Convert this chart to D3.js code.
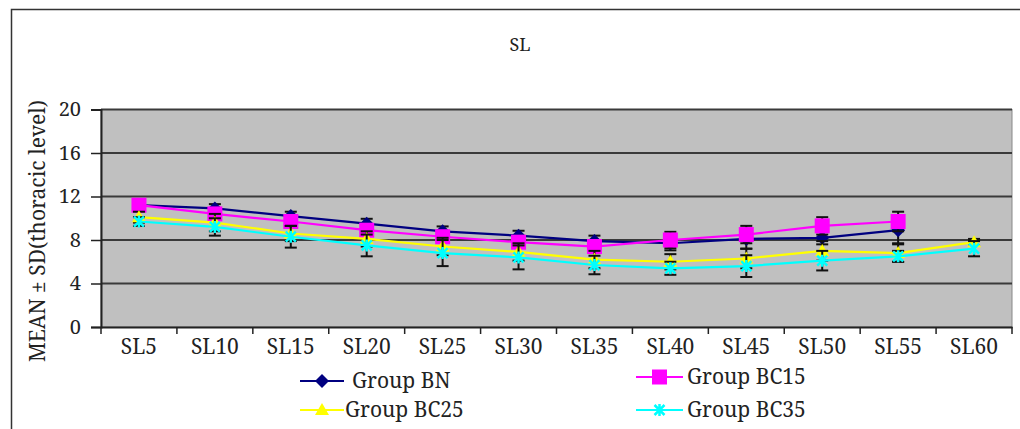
<!DOCTYPE html>
<html><head><meta charset="utf-8">
<script src="https://cdn.jsdelivr.net/npm/d3@7"></script>
<style>body{margin:0;background:#fff;}svg{display:block;}</style>
</head><body>
<script>
const categories = ["SL5","SL10","SL15","SL20","SL25","SL30","SL35","SL40","SL45","SL50","SL55","SL60"];
const seriesNames = ["Group BN","Group BC15","Group BC25","Group BC35"];
const bnValues   = [11.2, 10.9, 10.2, 9.5, 8.8, 8.4, 7.9, 7.7, 8.1, 8.2, 8.9];
const bc15Values = [11.2, 10.4, 9.7, 8.9, 8.3, 7.8, 7.4, 8.0, 8.5, 9.3, 9.7];
const bc25Values = [10.1, 9.6, 8.6, 8.1, 7.4, 6.9, 6.2, 6.0, 6.3, 7.0, 6.8, 7.8];
const bc35Values = [9.7, 9.2, 8.3, 7.5, 6.8, 6.4, 5.7, 5.4, 5.6, 6.1, 6.5, 7.2];
const bnSD   = [0.4, 0.4, 0.4, 0.45, 0.45, 0.45, 0.5, 0.65, 0.9, 0.6, 1.2];
const bc15SD = [0.5, 0.5, 0.5, 0.5, 0.5, 0.5, 0.5, 0.75, 0.8, 0.8, 0.9];
const bc25SD = [0.5, 0.8, 0.7, 0.7, 0.8, 0.8, 0.8, 0.7, 0.9, 0.9, 0.8, 0.3];
const bc35SD = [0.4, 0.8, 1.0, 1.0, 1.2, 1.1, 0.85, 0.6, 1.0, 0.9, 0.5, 0.7];
const yTicks = [0, 4, 8, 12, 16, 20];
const titleText = "SL";
const yLabel = "MEAN ± SD(thoracic level)";

const W = 1020, H = 429;
const FONT = '"Noto Serif", "Liberation Serif", serif';
const svg = d3.select("body").append("svg").attr("width", W).attr("height", H);

// outer frame
svg.append("rect").attr("x", 11.5).attr("y", 9.5).attr("width", W + 20).attr("height", H + 20)
  .attr("fill", "#fff").attr("stroke", "#333").attr("stroke-width", 1.5);

const x = d3.scaleBand().domain(categories).range([101, 1012]);
const y = d3.scaleLinear().domain([0, 20]).range([327, 109.5]);
const cx = c => x(c) + x.bandwidth() / 2;

// plot background
svg.append("rect").attr("x", 101).attr("y", y(20)).attr("width", 1012 - 101).attr("height", y(0) - y(20))
  .attr("fill", "#c0c0c0").attr("stroke", "#888").attr("stroke-width", 1);

// gridlines
svg.append("g").selectAll("line").data(yTicks.filter(t => t > 0)).join("line")
  .attr("x1", 101).attr("x2", 1012).attr("y1", d => y(d)).attr("y2", d => y(d))
  .attr("stroke", "#3a3a3a").attr("stroke-width", 2);

// y axis
const yAxis = svg.append("g").attr("transform", "translate(101,0)")
  .call(d3.axisLeft(y).tickValues(yTicks).tickSize(10).tickPadding(10).tickFormat(d3.format("d")));
yAxis.select(".domain").attr("stroke", "#222").attr("stroke-width", 2);
yAxis.selectAll(".tick line").attr("stroke", "#222").attr("stroke-width", 1.5);
yAxis.selectAll(".tick text").style("font-size", "20px").style("font-family", FONT).attr("fill", "#222");

// x axis
const xAxis = svg.append("g").attr("transform", "translate(0,327)")
  .call(d3.axisBottom(x).tickSize(0).tickPadding(12));
xAxis.select(".domain").attr("stroke", "#222").attr("stroke-width", 2);
xAxis.selectAll(".tick text").style("font-size", "21px").style("font-family", FONT).attr("fill", "#222").attr("dy", "0.72em");
// tick marks at band boundaries
svg.append("g").selectAll("line").data(categories.concat(["__end"])).join("line")
  .attr("x1", (d, i) => i < categories.length ? x(d) : 1012)
  .attr("x2", (d, i) => i < categories.length ? x(d) : 1012)
  .attr("y1", 327).attr("y2", 334).attr("stroke", "#222").attr("stroke-width", 1.5);

// title & y label
svg.append("text").attr("x", 520).attr("y", 51).attr("text-anchor", "middle")
  .style("font-family", FONT).style("font-size", "18px").attr("fill", "#222").text(titleText);
svg.append("text").attr("transform", "translate(45,231) rotate(-90)").attr("text-anchor", "middle")
  .style("font-family", FONT).style("font-size", "21px").attr("fill", "#222").text(yLabel);

const series = [
  {name: seriesNames[0], vals: bnValues, sd: bnSD, color: "#000080", marker: "diamond"},
  {name: seriesNames[1], vals: bc15Values, sd: bc15SD, color: "#ff00ff", marker: "square"},
  {name: seriesNames[2], vals: bc25Values, sd: bc25SD, color: "#ffff00", marker: "triangle"},
  {name: seriesNames[3], vals: bc35Values, sd: bc35SD, color: "#00ffff", marker: "x"}
];

function drawMarker(g, type, color, px, py) {
  if (type === "diamond") {
    g.append("path").attr("d", `M${px},${py-7}L${px+7},${py}L${px},${py+7}L${px-7},${py}Z`).attr("fill", color);
  } else if (type === "square") {
    g.append("rect").attr("x", px - 7.5).attr("y", py - 7.5).attr("width", 15).attr("height", 15).attr("fill", color);
  } else if (type === "triangle") {
    g.append("path").attr("d", `M${px},${py-7}L${px+7},${py+5}L${px-7},${py+5}Z`).attr("fill", color);
  } else {
    g.append("path").attr("d", `M${px-5},${py-5}L${px+5},${py+5}M${px-5},${py+5}L${px+5},${py-5}M${px},${py-6}L${px},${py+6}`)
      .attr("stroke", color).attr("stroke-width", 2.5);
  }
}

const line = d3.line().x(d => cx(d.c)).y(d => y(d.v));
series.forEach(s => {
  const pts = s.vals.map((v, i) => ({c: categories[i], v: v, sd: s.sd[i]}));
  const g = svg.append("g");
  g.append("path").datum(pts).attr("d", line).attr("fill", "none").attr("stroke", s.color).attr("stroke-width", 2.2);
  const eb = g.append("g").attr("stroke", "#111").attr("stroke-width", 2);
  pts.forEach(p => {
    const px = cx(p.c);
    eb.append("line").attr("x1", px).attr("x2", px).attr("y1", y(p.v + p.sd)).attr("y2", y(p.v - p.sd));
    eb.append("line").attr("x1", px - 6).attr("x2", px + 6).attr("y1", y(p.v + p.sd)).attr("y2", y(p.v + p.sd));
    eb.append("line").attr("x1", px - 6).attr("x2", px + 6).attr("y1", y(p.v - p.sd)).attr("y2", y(p.v - p.sd));
  });
  pts.forEach(p => drawMarker(g, s.marker, s.color, cx(p.c), y(p.v)));
});

// legend
const legendPos = [
  {lx1: 300, lx2: 344, tx: 352, ly: 381},
  {lx1: 636, lx2: 683, tx: 687, ly: 377},
  {lx1: 300, lx2: 344, tx: 345, ly: 410},
  {lx1: 636, lx2: 683, tx: 687, ly: 410}
];
series.forEach((s, i) => {
  const p = legendPos[i];
  const g = svg.append("g");
  g.append("line").attr("x1", p.lx1).attr("x2", p.lx2).attr("y1", p.ly).attr("y2", p.ly).attr("stroke", s.color).attr("stroke-width", 2.2);
  drawMarker(g, s.marker, s.color, (p.lx1 + p.lx2) / 2, p.ly);
  g.append("text").attr("x", p.tx).attr("y", p.ly + 7).style("font-size", "21px").style("font-family", FONT)
    .attr("fill", "#222").text(s.name);
});
</script>
</body></html>
